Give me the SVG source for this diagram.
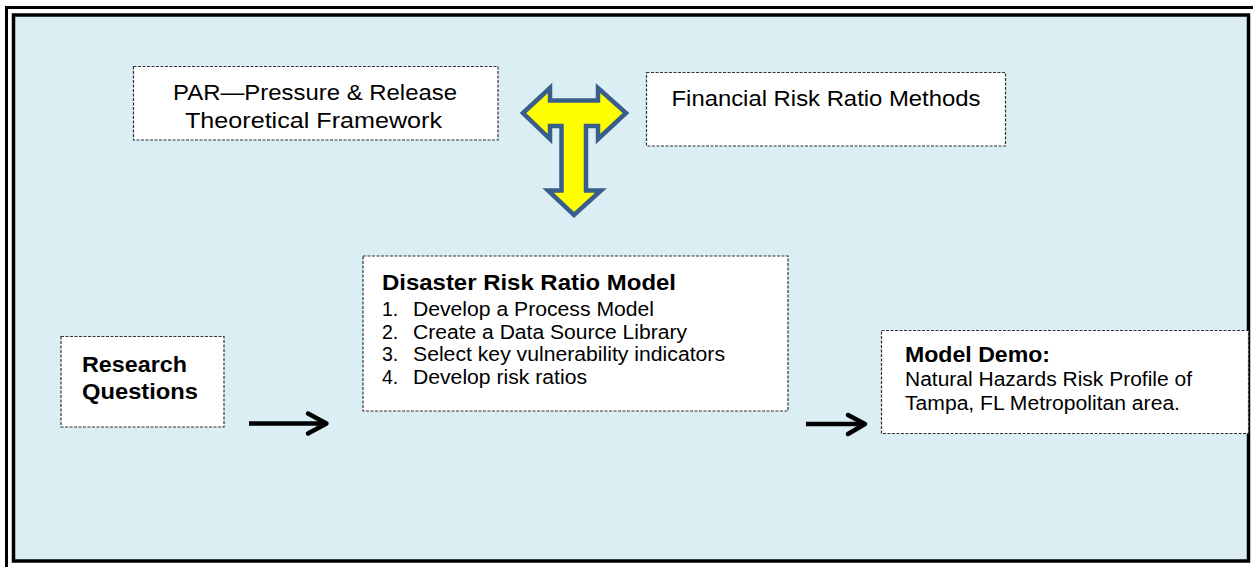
<svg xmlns="http://www.w3.org/2000/svg" width="1253" height="567" viewBox="0 0 1253 567">
  <style>
    .frame { fill: none; stroke: #000; stroke-width: 3; }
    .panel { fill: #DAEEF3; stroke: #000; stroke-width: 3.5; }
    .box { fill: #fff; stroke: #333; stroke-width: 1.2; stroke-dasharray: 3 1.5; }
    .t { font-family: "Liberation Sans", Arial, sans-serif; fill: #000; }
    .n { font-size: 22.5px; }
    .b { font-size: 21.5px; font-weight: bold; }
    .s { font-size: 19.5px; }
    .link { fill: none; stroke: #000; stroke-width: 4.5; stroke-linecap: round; stroke-linejoin: round; }
    .tee { fill: #FFFF00; stroke: #3A5E8C; stroke-width: 4.5; stroke-linejoin: miter; }
  </style>

  <!-- double frame around the panel -->
  <rect class="frame" x="6.5" y="7.5" width="1260" height="600"/>
  <rect class="panel" x="13.5" y="15" width="1235" height="546"/>

  <g id="par">
    <rect class="box" x="133.5" y="66.5" width="364.5" height="73.5"/>
    <text class="t n" x="173" y="100" textLength="284" lengthAdjust="spacingAndGlyphs">PAR—Pressure &amp; Release</text>
    <text class="t n" x="185" y="127.5" textLength="257" lengthAdjust="spacingAndGlyphs">Theoretical Framework</text>
  </g>

  <g id="financial">
    <rect class="box" x="646.5" y="72.5" width="359" height="73.5"/>
    <text class="t n" x="671.5" y="105.5" textLength="309" lengthAdjust="spacingAndGlyphs">Financial Risk Ratio Methods</text>
  </g>

  <g id="combine">
    <path class="tee" d="M523,113 L550,88 L550,100.5 L598,100.5 L598,88 L626,113 L598,139 L598,126 L586,126 L586,190.5 L601,190.5 L574,215 L548,190.5 L561.5,190.5 L561.5,126 L550,126 L550,139 Z"/>
  </g>

  <g id="research">
    <rect class="box" x="61" y="336.5" width="163" height="90.5"/>
    <text class="t b" x="82" y="371.5" textLength="105" lengthAdjust="spacingAndGlyphs">Research</text>
    <text class="t b" x="82" y="398.5" textLength="116" lengthAdjust="spacingAndGlyphs">Questions</text>
  </g>

  <g id="model">
    <rect class="box" x="363" y="256" width="425" height="155"/>
    <text class="t b" x="382" y="290" textLength="294" lengthAdjust="spacingAndGlyphs">Disaster Risk Ratio Model</text>
    <text class="t s" x="382" y="316">1.</text>
    <text class="t s" x="413" y="316" textLength="241" lengthAdjust="spacingAndGlyphs">Develop a Process Model</text>
    <text class="t s" x="382" y="338.5">2.</text>
    <text class="t s" x="413" y="338.5" textLength="274" lengthAdjust="spacingAndGlyphs">Create a Data Source Library</text>
    <text class="t s" x="382" y="361">3.</text>
    <text class="t s" x="413" y="361" textLength="312" lengthAdjust="spacingAndGlyphs">Select key vulnerability indicators</text>
    <text class="t s" x="382" y="383.5">4.</text>
    <text class="t s" x="413" y="383.5" textLength="174" lengthAdjust="spacingAndGlyphs">Develop risk ratios</text>
  </g>

  <g id="demo">
    <rect class="box" x="881.5" y="330.5" width="367" height="103"/>
    <text class="t b" x="905" y="361.5" textLength="145" lengthAdjust="spacingAndGlyphs">Model Demo:</text>
    <text class="t s" x="905" y="386" textLength="287" lengthAdjust="spacingAndGlyphs">Natural Hazards Risk Profile of</text>
    <text class="t s" x="905" y="410" textLength="275" lengthAdjust="spacingAndGlyphs">Tampa, FL Metropolitan area.</text>
  </g>

  <g id="connectors">
    <line class="link" x1="249" y1="423.5" x2="326" y2="423.5" style="stroke-linecap:butt"/>
    <polyline class="link" points="308,413.5 326.5,423.5 308,433.5"/>
    <line class="link" x1="806" y1="424" x2="864" y2="424" style="stroke-linecap:butt"/>
    <polyline class="link" points="848,415 865,424 848,434"/>
  </g>
</svg>
